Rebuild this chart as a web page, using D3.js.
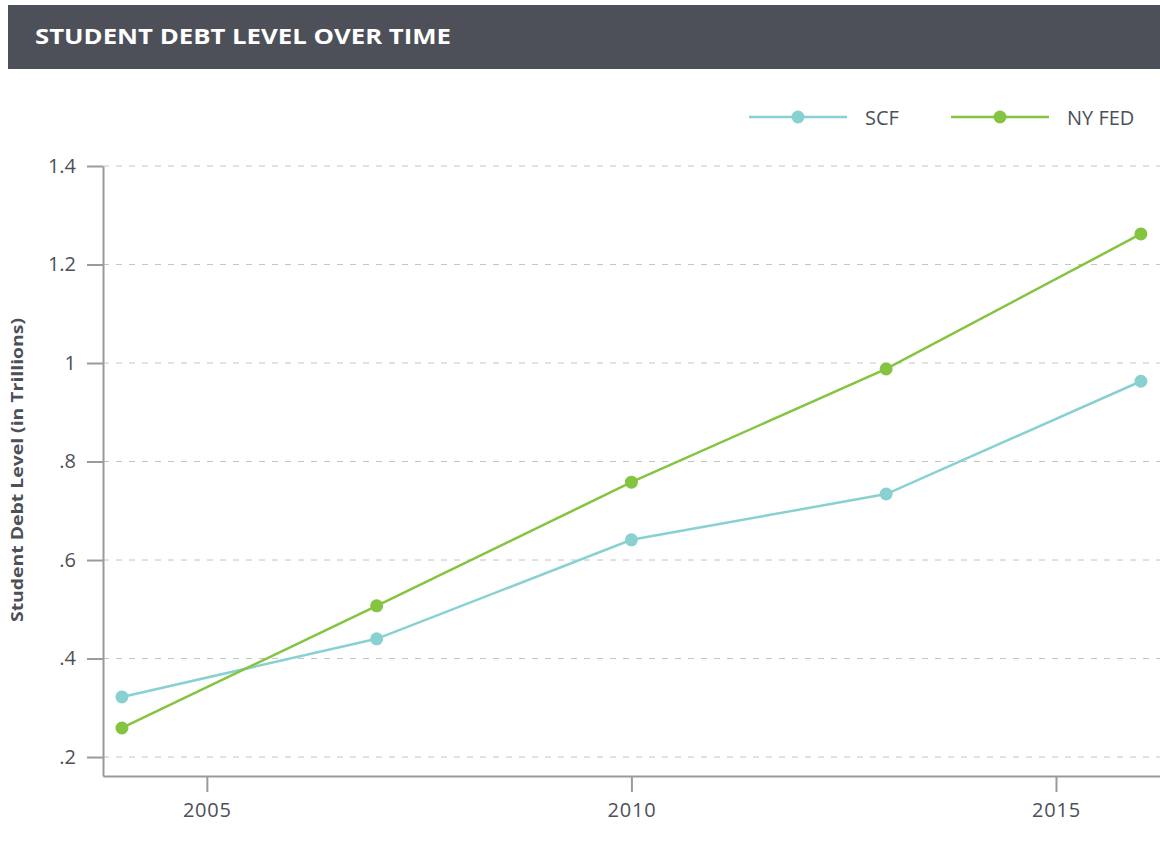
<!DOCTYPE html>
<html><head><meta charset="utf-8">
<script src="https://d3js.org/d3.v7.min.js"></script>
<style>
body{margin:0;background:#fff;}
svg{display:block;font-family:"Open Sans",Lato,sans-serif;}
</style></head>
<body>
<script>
const years = [2004, 2007, 2010, 2013, 2016];
const scfValues = [0.322, 0.440, 0.641, 0.734, 0.963];
const nyFedValues = [0.259, 0.507, 0.758, 0.988, 1.262];
const seriesNames = ["SCF", "NY FED"];
const seriesColors = ["#88d1d0", "#84c441"];
const yTicks = [0.2, 0.4, 0.6, 0.8, 1.0, 1.2, 1.4];
const xTicks = [2005, 2010, 2015];
const title = "STUDENT DEBT LEVEL OVER TIME";
const yTitle = "Student Debt Level (in Trillions)";

const W = 1160, H = 856;
const svg = d3.select("body").append("svg").attr("width", W).attr("height", H);
const FONT = "'Open Sans',Lato,sans-serif";

// title bar
svg.append("rect").attr("x", 8).attr("y", 5).attr("width", W - 8).attr("height", 64).attr("fill", "#4d5059");
svg.append("text").attr("x", 35).attr("y", 44).attr("fill", "#fff")
  .attr("font-size", 21.5).attr("font-weight", 700)
  .attr("textLength", 416).attr("lengthAdjust", "spacingAndGlyphs").text(title);

const x = d3.scaleLinear().domain([2003.777, 2016.225]).range([103, 1160]);
const y = d3.scaleLinear().domain([0.1615, 1.4]).range([776, 166]);

const textColor = "#4d5059", axisColor = "#999a9d";

// grid lines
svg.append("g").selectAll("line").data(yTicks).join("line")
  .attr("x1", 103).attr("x2", 1160)
  .attr("y1", d => y(d)).attr("y2", d => y(d))
  .attr("stroke", "#c4c4c4").attr("stroke-width", 1).attr("stroke-dasharray", "6,7");

const fmt = d => d === 1 ? "1" : (d < 1 ? d3.format(".1f")(d).replace(/^0/, "") : d3.format(".1f")(d));

// y axis
const gy = svg.append("g").attr("transform", "translate(103,0)")
  .call(d3.axisLeft(y).tickValues(yTicks).tickFormat(fmt).tickSize(16).tickPadding(11).tickSizeOuter(0));
gy.select(".domain").attr("stroke", axisColor).attr("stroke-width", 2);
gy.selectAll(".tick line").attr("stroke", axisColor).attr("stroke-width", 2);
gy.selectAll(".tick text").attr("fill", textColor).attr("font-size", 20).attr("font-family", FONT);

// x axis
const gx = svg.append("g").attr("transform", "translate(0,776)")
  .call(d3.axisBottom(x).tickValues(xTicks).tickFormat(d3.format("d")).tickSize(16).tickPadding(11).tickSizeOuter(0));
gx.select(".domain").attr("stroke", axisColor).attr("stroke-width", 2);
gx.selectAll(".tick line").attr("stroke", axisColor).attr("stroke-width", 2);
gx.selectAll(".tick text").attr("fill", textColor).attr("font-size", 20).attr("font-family", FONT)
  .attr("letter-spacing", 0.8);

// y title
svg.append("text").attr("transform", "translate(23,470) rotate(-90)")
  .attr("text-anchor", "middle").attr("fill", textColor).attr("font-size", 16.5).attr("font-weight", 700)
  .attr("textLength", 304).attr("lengthAdjust", "spacingAndGlyphs")
  .text(yTitle);

// series
const series = [scfValues, nyFedValues];
const line = d3.line().x((d, i) => x(years[i])).y(d => y(d));
series.forEach((vals, si) => {
  svg.append("path").datum(vals).attr("d", line).attr("fill", "none")
    .attr("stroke", seriesColors[si]).attr("stroke-width", 2.5);
  svg.append("g").selectAll("circle").data(vals).join("circle")
    .attr("cx", (d, i) => x(years[i])).attr("cy", d => y(d)).attr("r", 6.5)
    .attr("fill", seriesColors[si]);
});

// legend
const legX = [749, 951];
seriesNames.forEach((name, i) => {
  const g = svg.append("g").attr("transform", `translate(${legX[i]},117)`);
  g.append("line").attr("x1", 0).attr("x2", 98).attr("stroke", seriesColors[i]).attr("stroke-width", 2.5);
  g.append("circle").attr("cx", 49).attr("r", 6.5).attr("fill", seriesColors[i]);
  g.append("text").attr("x", 116).attr("y", 7.5).attr("fill", textColor).attr("font-size", 20).text(name);
});
</script>
</body></html>
